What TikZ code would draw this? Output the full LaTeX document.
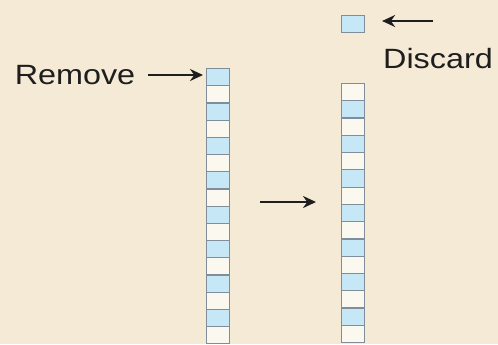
\documentclass[tikz,border=0pt]{standalone}
\usepackage{fontspec}
\newfontfamily\labfont{Liberation Sans}
\usetikzlibrary{arrows.meta}
\definecolor{paper}{HTML}{F5EAD6}
\definecolor{cellblue}{HTML}{C6E7F6}
\definecolor{cellwhite}{HTML}{FBF8F0}
\definecolor{cellline}{HTML}{7F8E9A}
\definecolor{ink}{HTML}{1E1E1E}
\tikzset{
  cell/.style={draw=cellline, line width=1.1bp, rectangle, inner sep=0pt,
    minimum width=23bp, minimum height=17.2bp, anchor=north west},
  bluecell/.style={cell, fill=cellblue},
  whitecell/.style={cell, fill=cellwhite},
  lab/.style={text=ink, inner sep=0pt, anchor=base,
    font=\labfont\fontsize{28}{30}\selectfont},
  arr/.style={draw=ink, line width=2.7bp, -{Stealth[length=13bp,width=12bp]}}
}
\begin{document}
\begin{tikzpicture}[x=1bp,y=-1bp]
\fill[paper] (0,0) rectangle (498,344);
\useasboundingbox (0,0) rectangle (498,344);
\begin{scope}
\clip (0,0) rectangle (498,344);
% left column: 16 cells, starting blue
\foreach \i in {1,...,16}{
  \pgfmathsetmacro{\yy}{68+(\i-1)*17.2}
  \ifodd\i
    \node[bluecell] (L\i) at (206,\yy) {};
  \else
    \node[whitecell] (L\i) at (206,\yy) {};
  \fi
}
% right column: 15 cells, starting white
\foreach \i in {1,...,15}{
  \pgfmathsetmacro{\yy}{83+(\i-1)*17.27}
  \ifodd\i
    \node[whitecell] (R\i) at (341,\yy) {};
  \else
    \node[bluecell] (R\i) at (341,\yy) {};
  \fi
}
\end{scope}
% discarded cell
\node[bluecell] (D) at (341,15) {};
% labels
\node[lab] (remove) at (75,84) {\scalebox{1.16}[1]{Remove}};
\node[lab] (discard) at (438,68) {\scalebox{1.16}[1]{Discard}};
% arrows
\coordinate (rstart) at (148,75);
\draw[arr] (rstart) -- ([xshift=-3bp]L1.west |- rstart);
\coordinate (dstart) at (433,21);
\draw[arr] (dstart) -- ([xshift=17bp]D.east |- dstart);
\coordinate (mstart) at (260,202);
\coordinate (mend) at (316,202);
\draw[arr] (mstart) -- (mend);
\end{tikzpicture}
\end{document}
